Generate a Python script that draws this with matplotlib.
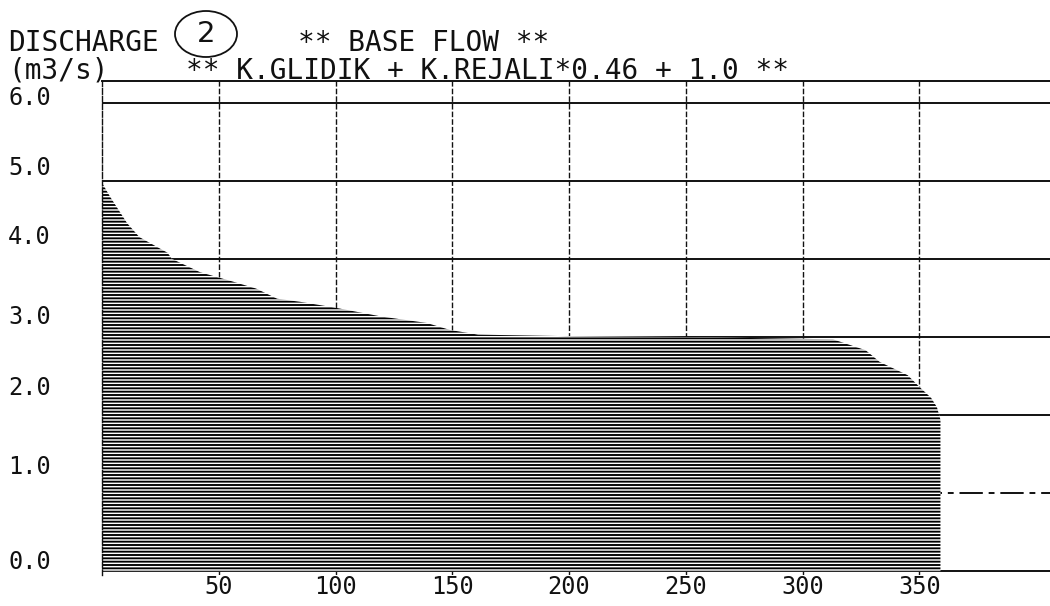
import numpy as np
import matplotlib
matplotlib.use("Agg")
import matplotlib.pyplot as plt
from matplotlib.patches import Ellipse
from matplotlib.transforms import blended_transform_factory

# ---- data (flow duration curve) ----
days = [0, 0.5, 3.4, 10.7, 16, 28, 30, 42, 56, 66, 75, 85, 99, 120, 139, 149,
        161, 200, 250, 313, 327, 333, 345, 350, 355, 357.5, 359, 359]
discharge = [4.95, 4.95, 4.8, 4.46, 4.28, 4.08, 4.0, 3.83, 3.71, 3.62, 3.49,
             3.45, 3.38, 3.26, 3.18, 3.09, 3.03, 3.01, 3.0, 2.97, 2.83, 2.68,
             2.51, 2.36, 2.22, 2.10, 1.94, 0.0]
xtick_values = [50, 100, 150, 200, 250, 300, 350]
xtick_labels = ["50", "100", "150", "200", "250", "300", "350"]
ytick_values = [0, 1, 2, 3, 4, 5, 6]
ytick_labels = ["0.0", "1.0", "2.0", "3.0", "4.0", "5.0", "6.0"]
ylabel_top = "DISCHARGE"
ylabel_unit = "(m3/s)"
title1 = "** BASE FLOW **"
title2 = "** K.GLIDIK + K.REJALI*0.46 + 1.0 **"
circled = "2"

W, H = 1050, 606
plt.rcParams["hatch.linewidth"] = 1.35
MONO = "DejaVu Sans Mono"
INK = "#111111"

fig = plt.figure(figsize=(W / 100, H / 100), dpi=100)
fig.patch.set_facecolor("white")

def fx(px):
    return px / W

def fy(py):
    return 1 - py / H

ax = fig.add_axes([fx(102), fy(575), 1 - fx(102), fy(81) - fy(575)])
ax.set_xlim(0, (W - 102) / 2.3355)
ax.set_ylim(-0.05, 6.28)
ax.set_facecolor("white")

# grid lines
for v in ytick_values:
    ls = (0, (12, 3, 3, 3)) if v == 1 else "-"
    ax.axhline(v, color=INK, lw=1.4, ls=ls, zorder=1)
for v in xtick_values:
    ax.axvline(v, color=INK, lw=1.0, ls=(0, (4, 1.5)), zorder=1)

# the filled duration curve, hatched like the dot-matrix print
ax.fill_between(days, 0, discharge, facecolor="white", edgecolor="black",
                hatch="-----", linewidth=0, zorder=2)

for s in ["right", "bottom"]:
    ax.spines[s].set_visible(False)
ax.spines["top"].set_linewidth(1.4)
ax.spines["top"].set_color(INK)
ax.spines["left"].set_linestyle((0, (4, 1.5)))
ax.spines["left"].set_linewidth(1.0)
ax.spines["left"].set_color(INK)

ax.set_xticks(xtick_values)
ax.set_xticklabels(xtick_labels, fontfamily=MONO, fontsize=17, color=INK)
ax.tick_params(axis="x", length=0, pad=0)
ax.set_yticks([])

# y labels (printed above their grid lines on the original)
label_offsets = [0.12, 0.33, 0.35, 0.26, 0.28, 0.17, 0.06]
tr = blended_transform_factory(fig.transFigure, ax.transData)
for v, lab, off in zip(ytick_values, ytick_labels, label_offsets):
    ax.text(fx(8), v + off, lab, transform=tr, ha="left", va="center",
            fontfamily=MONO, fontsize=17, color=INK, clip_on=False)

# header
fig.text(fx(8), fy(51), ylabel_top, ha="left", va="baseline",
         fontfamily=MONO, fontsize=20, color=INK)
fig.text(fx(8), fy(79), ylabel_unit, ha="left", va="baseline",
         fontfamily=MONO, fontsize=20, color=INK)
fig.text(fx(298), fy(51), title1, ha="left", va="baseline",
         fontfamily=MONO, fontsize=20, color=INK)
fig.text(fx(186), fy(79), title2, ha="left", va="baseline",
         fontfamily=MONO, fontsize=20, color=INK)

# hand-drawn circled "2"
fig.patches.append(Ellipse((fx(206), fy(34)), fx(62), 46 / H,
                           transform=fig.transFigure, fill=False,
                           edgecolor=INK, lw=1.3))
fig.text(fx(206), fy(34), circled, ha="center", va="center",
         fontfamily="DejaVu Sans", fontsize=21, color=INK)

fig.savefig("out.png", dpi=100, facecolor="white")
